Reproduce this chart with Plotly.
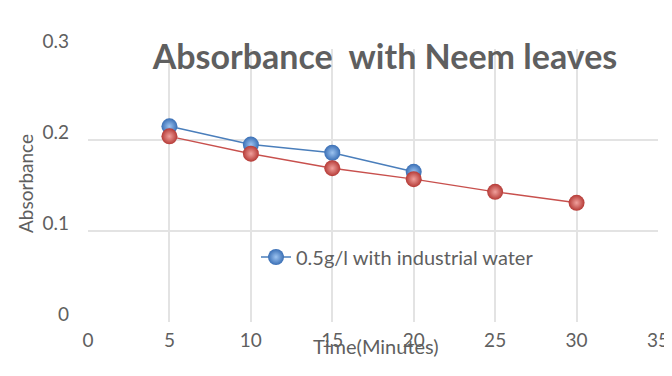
import plotly.graph_objects as go

time_min = [5, 10, 15, 20, 25, 30]
blue_vals = [0.215, 0.195, 0.186, 0.165]
red_vals = [0.204, 0.185, 0.169, 0.157, 0.143, 0.131]
blue_name = "0.5g/l with industrial water"
red_name = "Series 2"
x_ticks = [0, 5, 10, 15, 20, 25, 30, 35]
y_ticks = [0, 0.1, 0.2, 0.3]
y_tick_text = ["0", "0.1", "0.2", "0.3"]

gray = "#5f5f5f"
font = "Lato, Carlito, 'Open Sans', sans-serif"

# the page body has an 8px margin, so the figure is drawn 8px smaller and offset
OFF = 8
W, H = 672 - OFF, 376 - OFF


def px(x):
    return x - OFF


fig = go.Figure()
fig.add_trace(go.Scatter(
    x=time_min[:len(blue_vals)], y=blue_vals, name=blue_name, mode="lines+markers",
    line=dict(color="#4A7EBB", width=1.5),
    marker=dict(size=16, color="#3A6FB5",
                gradient=dict(type="radial", color="#9CC3F0"),
                line=dict(width=0)),
    showlegend=True,
))
fig.add_trace(go.Scatter(
    x=time_min, y=red_vals, name=red_name, mode="lines+markers",
    line=dict(color="#C8504D", width=1.5),
    marker=dict(size=16, color="#B53A36",
                gradient=dict(type="radial", color="#F0A09C"),
                line=dict(width=0)),
    showlegend=False,
))

L, T = px(88), px(49)
R = W - px(658)
B = H - px(322)
pw, ph = W - L - R, H - T - B

fig.update_layout(
    width=W, height=H,
    margin=dict(l=L, r=R, t=T, b=B, autoexpand=False),
    paper_bgcolor="white", plot_bgcolor="white",
    font=dict(family=font, color=gray, size=19),
    title=dict(text="<b>Absorbance  with Neem leaves</b>", x=px(385) / W, xanchor="center",
               y=1 - px(57) / H, yanchor="middle",
               font=dict(size=34, color=gray, family=font)),
    legend=dict(x=(px(256) - L) / pw, y=(px(322) - px(257)) / ph, xanchor="left",
                yanchor="middle", bgcolor="rgba(0,0,0,0)", font=dict(size=20, color=gray)),
    xaxis=dict(range=[0, 35], tickvals=x_ticks, showgrid=True, gridcolor="#e3e3e3",
               gridwidth=1.5, zeroline=False, showline=False, ticks="", automargin=False,
               ticklabelstandoff=5, tickfont=dict(size=19, color=gray)),
    yaxis=dict(range=[0, 0.3], tickvals=y_ticks, ticktext=y_tick_text, showgrid=True,
               gridcolor="#e3e3e3", gridwidth=1.5, zeroline=False, showline=False,
               ticks="", ticklabelstandoff=18, ticklabelshift=-8, automargin=False,
               tickfont=dict(size=19, color=gray)),
    annotations=[
        dict(text="Time(Minutes)", xref="paper", yref="paper", x=(px(376) - L) / pw,
             y=-(346 - 322) / ph, xanchor="center", yanchor="middle", showarrow=False,
             font=dict(size=20, color=gray)),
        dict(text="Absorbance", xref="paper", yref="paper", x=(px(25) - L) / pw,
             y=(322 - 184) / ph, xanchor="center", yanchor="middle", showarrow=False,
             textangle=-90, font=dict(size=19, color=gray)),
    ],
)

fig.write_html("out.html")
